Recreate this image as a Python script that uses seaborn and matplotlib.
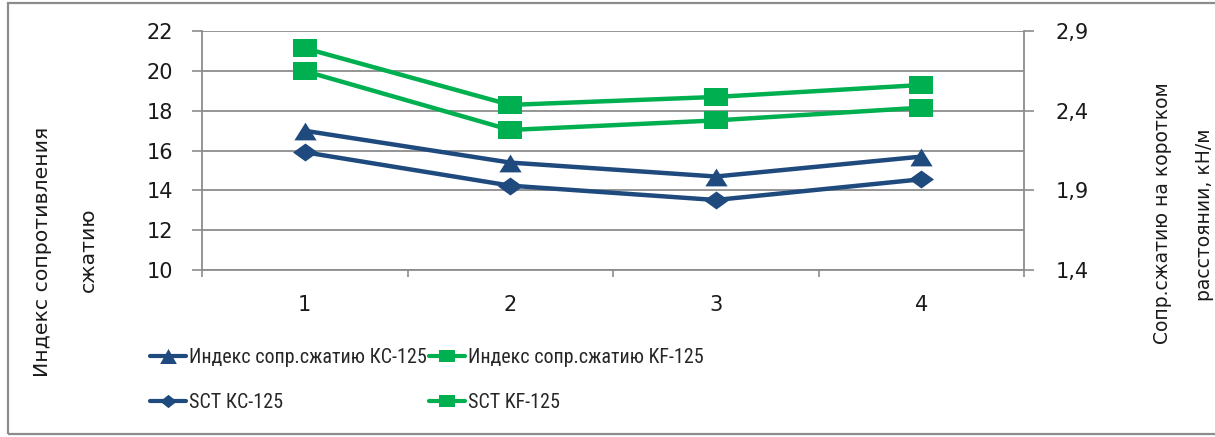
import matplotlib
matplotlib.use("Agg")
import matplotlib.pyplot as plt
from matplotlib import font_manager
from matplotlib.lines import Line2D
from matplotlib.patches import Rectangle
from matplotlib.ticker import FixedLocator, FuncFormatter
import seaborn as sns
import pandas as pd

# ---- data ----
categories = ["1", "2", "3", "4"]
index_kc = [17.0, 15.4, 14.7, 15.7]      # left axis
index_kf = [21.15, 18.3, 18.7, 19.3]     # left axis
sct_kc = [2.14, 1.93, 1.84, 1.97]        # right axis
sct_kf = [2.65, 2.28, 2.34, 2.42]        # right axis
left_ticks = [10, 12, 14, 16, 18, 20, 22]
right_ticks = [1.4, 1.9, 2.4, 2.9]
labels = ["Индекс сопр.сжатию КС-125", "Индекс сопр.сжатию KF-125",
          "SCT КС-125", "SCT KF-125"]

BLUE = "#1F4A7E"
GREEN = "#00B050"
GRID = "#8C8C8C"

sns.set_theme(style="white")
avail = {f.name for f in font_manager.fontManager.ttflist}
def pick(*names):
    for n in names:
        if n in avail:
            return n
    return "DejaVu Sans"
NARROW = pick("Liberation Sans Narrow", "Roboto Condensed", "Liberation Sans")
plt.rcParams["font.family"] = ["DejaVu Sans"]

fig = plt.figure(figsize=(12.15, 4.37), dpi=100)
W, H = 1215, 437
ax = fig.add_axes([202 / W, 1 - 270 / H, (1024 - 202) / W, (270 - 31.3) / H])
ax2 = ax.twinx()

pos = list(range(len(categories)))
df = pd.DataFrame({"pos": pos, "index_kc": index_kc, "index_kf": index_kf,
                   "sct_kc": sct_kc, "sct_kf": sct_kf})

tri = [(-1, -0.8), (1, -0.8), (0, 0.8)]
dia = [(-1, 0), (0, 0.72), (1, 0), (0, -0.72)]
sq = [(-1, -0.8), (1, -0.8), (1, 0.8), (-1, 0.8)]

common = dict(linewidth=3.2, legend=False, sort=False, markeredgewidth=0)
sns.lineplot(data=df, x="pos", y="index_kf", ax=ax, color=GREEN, marker=sq,
             markersize=17, markerfacecolor=GREEN, zorder=3, **common)
sns.lineplot(data=df, x="pos", y="index_kc", ax=ax, color=BLUE, marker=tri,
             markersize=16, markerfacecolor=BLUE, zorder=3, **common)
sns.lineplot(data=df, x="pos", y="sct_kf", ax=ax2, color=GREEN, marker=sq,
             markersize=17, markerfacecolor=GREEN, zorder=3, **common)
sns.lineplot(data=df, x="pos", y="sct_kc", ax=ax2, color=BLUE, marker=dia,
             markersize=18, markerfacecolor=BLUE, zorder=3, **common)

ax.set_xlim(-0.5, len(categories) - 0.5)
ax.set_ylim(10, 22)
ax2.set_ylim(1.4, 2.9)
ax.set_xlabel("")
ax.set_ylabel("")
ax2.set_ylabel("")

# x axis: labels at centers, tick marks at category boundaries
ax.xaxis.set_major_locator(FixedLocator(pos))
ax.set_xticklabels(categories)
ax.xaxis.set_minor_locator(FixedLocator([p - 0.5 for p in pos] + [pos[-1] + 0.5]))
ax.tick_params(axis="x", which="major", length=0, pad=18, labelsize=15, labelcolor="#1a1a1a")
ax.tick_params(axis="x", which="minor", length=5, width=1.2, color=GRID, direction="out", bottom=True)

ax.yaxis.set_major_locator(FixedLocator(left_ticks))
ax.tick_params(axis="y", which="major", length=7, width=1.2, color=GRID, pad=14,
               labelsize=15, labelcolor="#1a1a1a", left=True)
ax2.yaxis.set_major_locator(FixedLocator(right_ticks))
ax2.yaxis.set_major_formatter(FuncFormatter(lambda v, p: f"{v:.1f}".replace(".", ",")))
ax2.tick_params(axis="y", which="major", length=7, width=1.2, color=GRID, pad=16,
                labelsize=15, labelcolor="#1a1a1a", right=True)

ax.yaxis.grid(True, color=GRID, linewidth=1.3)
ax.set_axisbelow(True)
for a in (ax, ax2):
    for s in a.spines.values():
        s.set_color(GRID)
        s.set_linewidth(1.3)
    a.spines["top"].set_visible(False)
ax2.spines["left"].set_visible(False)
ax2.spines["bottom"].set_visible(False)
ax.spines["right"].set_visible(False)

# axis titles (two lines each)
lab_kw = dict(rotation=90, ha="center", va="center", color="#1a1a1a",
              family="DejaVu Sans")
fig.text(43 / W, 1 - 252 / H, "Индекс сопротивления", fontsize=14.7, **lab_kw)
fig.text(88 / W, 1 - 250 / H, "сжатию", fontsize=14.7, **lab_kw)
fig.text(1163 / W, 1 - 213 / H, "Сопр.сжатию на коротком", fontsize=13.5, **lab_kw)
fig.text(1205 / W, 1 - 215 / H, "расстоянии, кН/м", fontsize=13.5, **lab_kw)

# legend
tri_s = [(-1, -0.9), (1, -0.9), (0, 0.9)]
sq_s = [(-1, -0.85), (1, -0.85), (1, 0.85), (-1, 0.85)]
dia_s = [(-1, 0), (0, 0.8), (1, 0), (0, -0.8)]
handles = [
    Line2D([], [], color=BLUE, lw=3, marker=tri_s, markersize=12, markeredgewidth=0),
    Line2D([], [], color=BLUE, lw=3, marker=dia_s, markersize=12, markeredgewidth=0),
    Line2D([], [], color=GREEN, lw=3, marker=sq_s, markersize=11, markeredgewidth=0),
    Line2D([], [], color=GREEN, lw=3, marker=sq_s, markersize=11, markeredgewidth=0),
]
hl = [labels[0], labels[2], labels[1], labels[3]]
fig.legend(handles, hl, loc="upper left", bbox_to_anchor=(150 / W, 1 - 348 / H),
           ncol=2, frameon=False, prop={"family": NARROW, "size": 14.4},
           handlelength=1.8, handletextpad=0.15, columnspacing=0.1,
           labelspacing=1.3, borderpad=0, borderaxespad=0)

# outer border
fig.patches.append(Rectangle((8 / W, 1 - 434 / H), 1.2, (434 - 3) / H,
                             transform=fig.transFigure, fill=False,
                             edgecolor=GRID, linewidth=1.6, clip_on=False))

fig.savefig("out.png", dpi=100)
